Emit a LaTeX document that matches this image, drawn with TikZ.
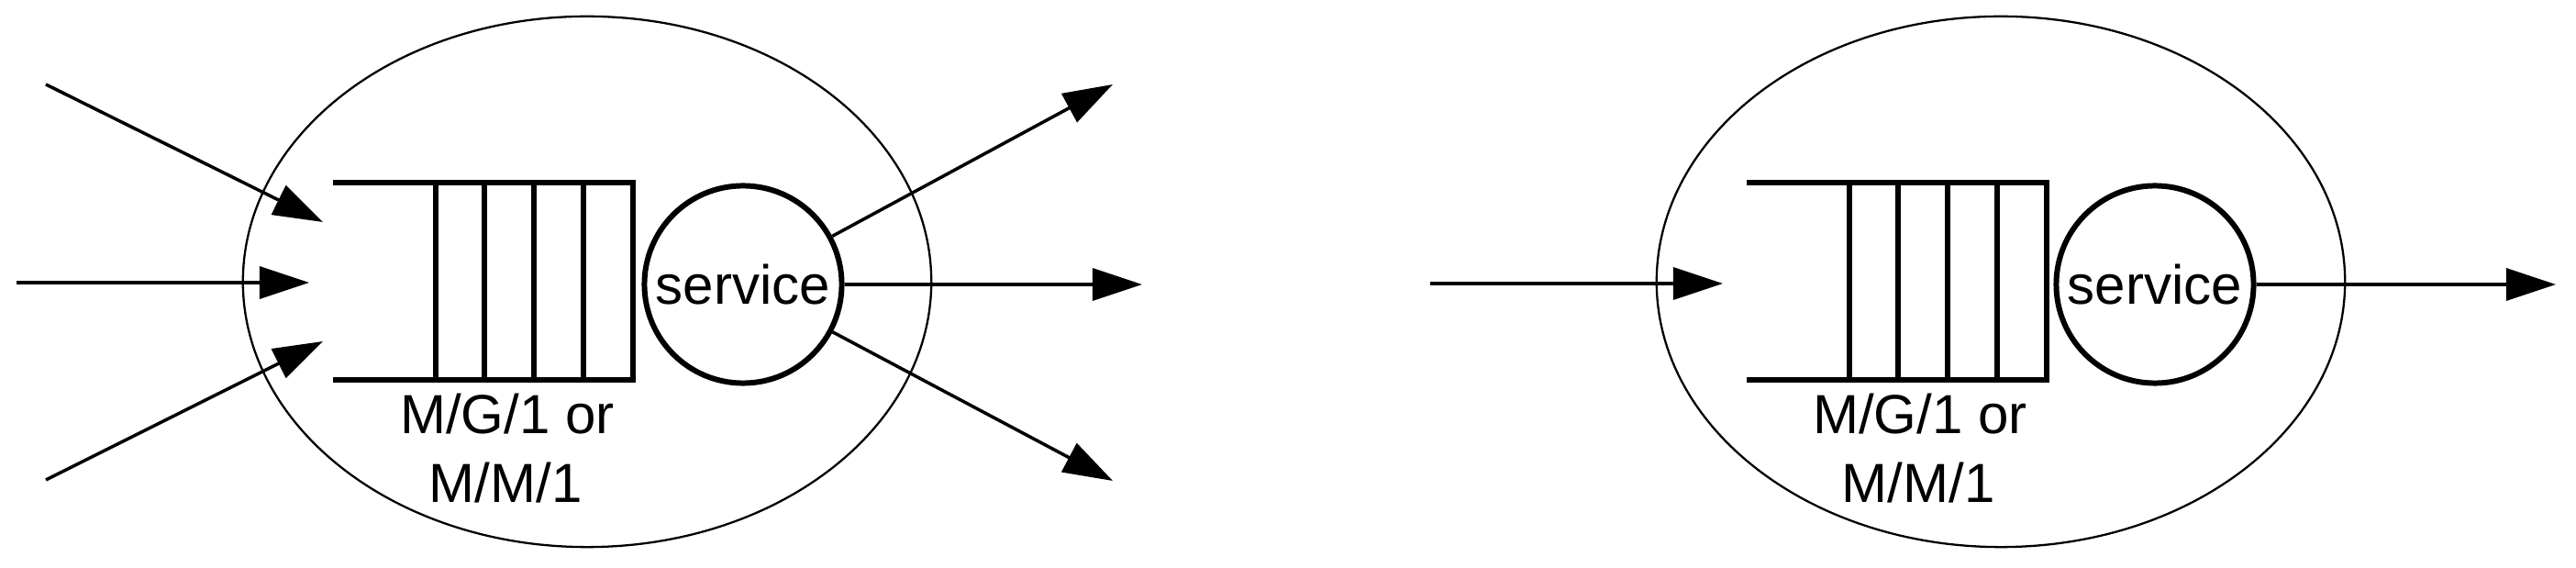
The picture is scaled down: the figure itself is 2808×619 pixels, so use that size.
\documentclass[tikz,border=0pt]{standalone}
\usepackage{fontspec}
\setmainfont{Liberation Sans}
\usetikzlibrary{arrows.meta,shapes.geometric}
\begin{document}
\begin{tikzpicture}[x=0.01cm,y=-0.01cm,
  sysbox/.style={draw,ellipse,line width=0.65pt,minimum width=7.5cm,minimum height=5.78cm,inner sep=0pt},
  qline/.style={line width=1.85pt,line cap=rect},
  svcbox/.style={draw,circle,line width=1.7pt,minimum size=2.15cm,inner sep=0pt,font=\fontsize{17.07pt}{21.3pt}\selectfont},
  lbl/.style={inner sep=0pt,anchor=base,font=\fontsize{17.07pt}{21.3pt}\selectfont},
  flow/.style={line width=1pt,-{Triangle[length=5.4mm,width=3.5mm]}}]
\useasboundingbox (0,0) rectangle (2808,619);
% ---------- left system ----------
\node[sysbox] (sysA) at (640,307) {};
\draw[qline] (366,199) -- (690,199) -- (690,414) -- (366,414);
\foreach \x in {475,528,582,636} \draw[qline] (\x,199) -- (\x,414);
\node[svcbox] (svcA) at (810,310) {service};
\node[lbl] (labA1) at (553,473) {M/G/1 or};
\node[lbl] (labA2) at (551,548) {M/M/1};
\coordinate (inA1) at (50,92);
\coordinate (inA2) at (18,308);
\coordinate (inA3) at (50,523);
\coordinate (tipA1) at (352,242);
\coordinate (tipA2) at (337,308);
\coordinate (tipA3) at (352,372);
\coordinate (outA1) at (1213,92);
\coordinate (outA2) at (1245,310);
\coordinate (outA3) at (1213,524);
\draw[flow] (inA1) -- (tipA1);
\draw[flow] (inA2) -- (tipA2);
\draw[flow] (inA3) -- (tipA3);
\draw[flow] (svcA) -- (outA1);
\draw[flow] (svcA.east) -- (outA2);
\draw[flow] (svcA) -- (outA3);
% ---------- right system ----------
\node[sysbox] (sysB) at (2181,307) {};
\draw[qline] (1907,199) -- (2231,199) -- (2231,414) -- (1907,414);
\foreach \x in {2016,2069,2123,2177} \draw[qline] (\x,199) -- (\x,414);
\node[svcbox] (svcB) at (2349,310) {service};
\node[lbl] (labB1) at (2093,473) {M/G/1 or};
\node[lbl] (labB2) at (2091,548) {M/M/1};
\coordinate (inB) at (1559,309);
\coordinate (tipB) at (1878,309);
\coordinate (outB) at (2786,310);
\draw[flow] (inB) -- (tipB);
\draw[flow] (svcB.east) -- (outB);
\end{tikzpicture}
\end{document}
